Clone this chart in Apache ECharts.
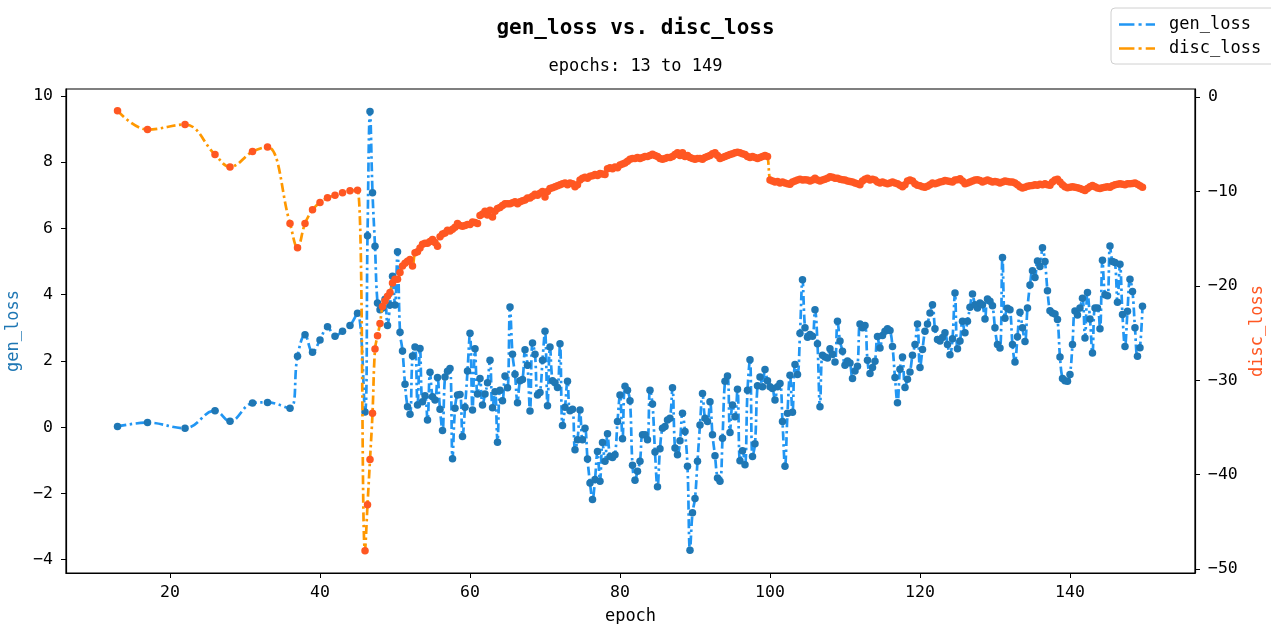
<!DOCTYPE html>
<html>
<head>
<meta charset="utf-8">
<script src="https://cdn.jsdelivr.net/npm/echarts@6/dist/echarts.min.js"></script>
<style>
  html, body { margin: 0; padding: 0; background: #ffffff; }
  #chart { width: 1271px; height: 624px; }
</style>
</head>
<body>
<div id="chart"></div>
<script>
// Sparse validation epochs logged before the dense phase
const earlyEpochs = [13, 17, 22, 26, 28, 31, 33, 36, 37, 38, 39, 40, 41, 42, 43, 44, 45];
const genEarly = [0.02, 0.14, -0.03, 0.50, 0.18, 0.73, 0.75, 0.57, 2.14, 2.79, 2.26, 2.63, 3.03, 2.75, 2.90, 3.07, 3.44];
const discEarly = [-1.45, -3.45, -2.92, -6.1, -7.4, -5.78, -5.29, -13.4, -15.96, -13.4, -11.95, -11.17, -10.68, -10.4, -10.15, -9.94, -9.87];

// From epoch 46 on, losses are logged three times per epoch
const denseStartEpoch = 46;
const pointsPerEpoch = 3;

const genDense = [
  0.46, 5.78, 9.53, 7.08, 5.46, 3.75, 3.55, 3.6, 3.86, 3.07, 3.69, 4.56,
  3.69, 5.3, 2.87, 2.3, 1.3, 0.62, 0.39, 2.15, 2.42, 0.67, 2.38, 0.77,
  0.95, 0.22, 1.66, 0.92, 0.82, 1.5, 0.54, -0.1, 1.52, 1.69, 1.77, -0.95,
  0.57, 0.97, 0.99, -0.28, 0.6, 1.7, 2.84, 0.52, 2.37, 1.0, 1.47, 0.67,
  1.0, 1.34, 2.02, 0.59, 1.07, -0.45, 1.12, 0.8, 1.55, 1.19, 3.63, 2.2,
  1.6, 0.74, 1.4, 1.44, 2.34, 1.87, 0.49, 2.54, 2.2, 0.97, 1.05, 2.02,
  2.9, 0.65, 2.42, 1.4, 1.34, 1.2, 2.52, 0.05, 0.6, 1.39, 0.5, 0.54,
  -0.68, -0.38, 0.52, -0.38, -0.03, -0.96, -1.68, -2.18, -1.58, -0.73, -1.63, -0.46,
  -1.03, -0.2, -0.88, -0.91, -0.83, 0.17, 0.97, -0.35, 1.24, 1.12, 0.8, -1.15,
  -1.6, -1.33, -1.03, -0.23, -0.23, -0.38, 1.12, 0.7, -0.75, -1.8, -0.65, -0.03,
  0.02, 0.22, 0.27, 1.19, -0.63, -0.83, -0.41, 0.42, -0.13, -1.18, -3.71, -2.58,
  -2.15, -1.03, 0.07, 1.02, 0.27, 0.17, 0.77, -0.23, -0.86, -1.53, -1.63, -0.33,
  1.39, 1.55, -0.16, 0.67, 0.32, 1.15, -1.01, -0.71, -1.13, 1.12, 2.04, -0.88,
  -0.5, 1.25, 1.52, 1.22, 1.74, 1.4, 1.22, 1.17, 0.82, 1.22, 1.32, 0.17,
  -1.18, 0.42, 1.57, 0.45, 1.89, 1.59, 2.84, 4.45, 3.0, 2.72, 2.8, 2.75,
  3.55, 2.52, 0.62, 2.17, 2.12, 2.09, 2.37, 2.2, 1.97, 3.2, 2.6, 2.29,
  1.87, 2.0, 1.94, 1.47, 1.7, 1.84, 3.12, 3.0, 3.07, 2.02, 1.62, 1.8,
  1.99, 2.74, 2.39, 2.77, 2.9, 2.97, 2.92, 2.44, 1.5, 0.74, 1.75, 2.12,
  1.2, 1.45, 1.67, 2.17, 2.5, 3.12, 1.8, 2.35, 2.9, 3.12, 3.45, 3.7,
  2.97, 2.65, 2.6, 2.71, 2.85, 2.5, 2.19, 2.67, 4.05, 2.37, 2.6, 3.2,
  2.85, 3.2, 3.62, 4.02, 3.7, 3.6, 3.75, 3.7, 3.27, 3.87, 3.8, 3.67,
  3.0, 2.5, 2.39, 5.12, 3.29, 3.59, 3.55, 2.5, 1.97, 2.73, 3.47, 3.0,
  2.59, 3.6, 4.29, 4.72, 4.52, 5.02, 4.85, 5.42, 5.0, 4.12, 3.52, 3.45,
  3.42, 3.25, 2.12, 1.47, 1.4, 1.39, 1.59, 2.5, 3.51, 3.39, 3.6, 3.89,
  2.69, 4.07, 3.27, 2.24, 3.6, 3.6, 2.97, 5.04, 4.0, 3.97, 5.47, 5.0,
  4.97, 3.77, 4.92, 3.4, 2.44, 3.5, 4.47, 4.1, 3.0, 2.14, 2.4, 3.65
];

const discDense = [
  -48.06, -43.2, -38.4, -33.5, -26.7, -25.3, -24.0, -22.2, -21.6, -21.1, -20.7, -19.7,
  -19.3, -19.3, -18.6, -17.9, -17.6, -17.4, -17.2, -17.9, -16.5, -16.4, -16.0, -15.6,
  -15.5, -15.5, -15.3, -15.1, -15.4, -15.8, -14.8, -14.5, -14.4, -14.1, -14.2, -14.0,
  -13.8, -13.4, -13.6, -13.7, -13.6, -13.5, -13.5, -13.25, -13.3, -13.4, -12.54, -12.4,
  -12.1, -12.5, -12.0, -12.7, -12.1, -11.8, -11.7, -11.5, -11.3, -11.3, -11.3, -11.2,
  -11.1, -11.3, -11.1, -11.0, -10.9, -10.7, -10.7, -10.5, -10.3, -10.4, -10.2, -10.0,
  -10.6, -10.0, -9.7, -9.6, -9.5, -9.4, -9.3, -9.2, -9.1, -9.3, -9.1, -9.2,
  -9.5, -9.3, -8.8, -8.6, -8.5, -8.6, -8.4, -8.35, -8.2, -8.3, -8.1, -8.15,
  -8.2, -7.6, -7.5, -7.6, -7.4, -7.5, -7.2, -7.1, -7.0, -6.8, -6.6, -6.5,
  -6.5, -6.4, -6.5, -6.4, -6.3, -6.3, -6.2, -6.05, -6.2, -6.3, -6.5, -6.6,
  -6.5, -6.4, -6.4, -6.3, -6.1, -5.9, -6.2, -5.9, -6.3, -6.2, -6.4, -6.5,
  -6.6, -6.5, -6.5, -6.6, -6.4, -6.3, -6.2, -6.0, -5.9, -6.2, -6.5, -6.4,
  -6.3, -6.2, -6.1, -6.0, -5.9, -5.85, -5.9, -6.0, -6.1, -6.3, -6.4, -6.3,
  -6.4, -6.5, -6.4, -6.3, -6.2, -6.3, -8.8, -8.9, -9.0, -8.95, -9.1, -9.0,
  -9.1, -9.2, -9.25, -9.0, -8.9, -8.8, -8.7, -8.8, -8.75, -8.8, -8.9, -8.8,
  -8.6, -8.8, -8.9, -8.8, -8.7, -8.6, -8.45, -8.5, -8.6, -8.6, -8.7, -8.75,
  -8.8, -8.9, -8.95, -9.0, -9.1, -9.2, -9.3, -8.9, -8.7, -8.6, -8.8, -8.7,
  -8.8, -9.0, -9.1, -9.0, -9.1, -9.2, -9.1, -9.0, -9.1, -9.2, -9.35, -9.5,
  -9.3, -8.9, -8.8, -8.9, -9.2, -9.35, -9.4, -9.5, -9.55, -9.45, -9.3, -9.1,
  -9.2, -9.1, -9.0, -8.95, -8.85, -8.9, -8.95, -9.0, -8.8, -8.75, -8.67, -8.9,
  -9.2, -9.1, -9.0, -8.9, -8.8, -8.75, -8.85, -9.0, -8.9, -8.8, -8.9, -9.0,
  -8.95, -9.0, -9.1, -9.0, -8.9, -8.95, -9.0, -9.0, -9.1, -9.3, -9.5, -9.65,
  -9.55, -9.45, -9.4, -9.37, -9.3, -9.35, -9.25, -9.3, -9.2, -9.3, -9.35, -9.0,
  -8.8, -8.7, -9.0, -9.3, -9.5, -9.6, -9.55, -9.5, -9.55, -9.6, -9.7, -9.8,
  -9.9, -9.7, -9.5, -9.37, -9.5, -9.65, -9.7, -9.6, -9.55, -9.5, -9.55, -9.4,
  -9.3, -9.25, -9.2, -9.25, -9.3, -9.2, -9.2, -9.15, -9.1, -9.25, -9.4, -9.55
];

const xTicks = [20, 40, 60, 80, 100, 120, 140];
const genTicks = [-4, -2, 0, 2, 4, 6, 8, 10];
const discTicks = [-50, -40, -30, -20, -10, 0];

// Assemble [epoch, value] pairs
const denseEpochs = genDense.map((_, i) => denseStartEpoch + i / pointsPerEpoch);
const epochs = earlyEpochs.concat(denseEpochs);
const genLoss = genEarly.concat(genDense);
const discLoss = discEarly.concat(discDense);
const genPoints = epochs.map((e, i) => [e, genLoss[i]]);
const discPoints = epochs.map((e, i) => [e, discLoss[i]]);

const FONT = 'DejaVu Sans Mono';
const GEN_LINE = '#2196f3', GEN_DOT = '#1f77b4';
const DISC_LINE = '#ff9800', DISC_DOT = '#ff5722';
const DASH_DOT = [9, 3.5, 2.5, 3.5];
// Legend swatch: dash, dot, dash
const DASH_DOT_ICON = 'path://M0,0h15v2.6h-15z M19,0h3v2.6h-3z M26,0h9v2.6h-9z';

const fmt = v => (v < 0 ? '\u2212' + Math.abs(v) : String(v));

const tickStyle = { show: true, inside: false, length: 5, lineStyle: { color: '#000', width: 1 } };
const labelBase = { fontFamily: FONT, fontSize: 16.5, color: '#000', formatter: fmt };

const chart = echarts.init(document.getElementById('chart'), null, { renderer: 'canvas' });

chart.setOption({
  animation: false,
  backgroundColor: '#ffffff',
  title: [
    {
      text: 'gen_loss vs. disc_loss',
      left: 'center', top: 13,
      textStyle: { fontFamily: FONT, fontSize: 21, fontWeight: 'bold', color: '#000' }
    },
    {
      text: 'epochs: 13 to 149',
      left: 'center', top: 53,
      textStyle: { fontFamily: FONT, fontSize: 17, fontWeight: 'normal', color: '#000' }
    }
  ],
  legend: {
    data: [
      { name: 'gen_loss', icon: DASH_DOT_ICON },
      { name: 'disc_loss', icon: DASH_DOT_ICON }
    ],
    orient: 'vertical',
    left: 1111, top: 8,
    padding: [8, 14, 7, 8],
    itemWidth: 36, itemHeight: 14, itemGap: 7,
    borderColor: '#d0d0d0', borderWidth: 1, borderRadius: 4,
    backgroundColor: 'rgba(255,255,255,0.8)',
    textStyle: { fontFamily: FONT, fontSize: 17, color: '#000', padding: [0, 0, 0, 9] }
  },
  grid: {
    left: 66, right: 76, top: 89, bottom: 51,
    outerBoundsMode: 'none', containLabel: false,
    show: true, borderColor: '#000', borderWidth: 1.2, backgroundColor: '#fff'
  },
  xAxis: {
    type: 'value',
    min: 6.13, max: 156.67,
    name: 'epoch', nameLocation: 'middle', nameGap: 35,
    nameTextStyle: { fontFamily: FONT, fontSize: 17, color: '#000' },
    axisLine: { show: true, onZero: false, lineStyle: { color: '#000', width: 1.2 } },
    axisTick: Object.assign({ customValues: xTicks }, tickStyle),
    axisLabel: Object.assign({ customValues: xTicks, margin: 11 }, labelBase),
    splitLine: { show: false }
  },
  yAxis: [
    {
      type: 'value', position: 'left',
      min: -4.40, max: 10.21,
      name: 'gen_loss', nameLocation: 'middle', nameGap: 40, nameRotate: 90,
      nameTextStyle: { fontFamily: FONT, fontSize: 17, color: '#1f77b4' },
      axisLine: { show: true, onZero: false, lineStyle: { color: '#000', width: 1.2 } },
      axisTick: Object.assign({ customValues: genTicks }, tickStyle),
      axisLabel: Object.assign({ customValues: genTicks, margin: 13 }, labelBase),
      splitLine: { show: false }
    },
    {
      type: 'value', position: 'right',
      min: -50.42, max: 0.85,
      name: 'disc_loss', nameLocation: 'middle', nameGap: 52, nameRotate: 90,
      nameTextStyle: { fontFamily: FONT, fontSize: 17, color: DISC_DOT },
      axisLine: { show: true, onZero: false, lineStyle: { color: '#000', width: 1.2 } },
      axisTick: Object.assign({ customValues: discTicks }, tickStyle),
      axisLabel: Object.assign({ customValues: discTicks, margin: 13 }, labelBase),
      splitLine: { show: false }
    }
  ],
  series: [
    {
      name: 'gen_loss', type: 'line', yAxisIndex: 0,
      data: genPoints, smooth: 0.4, symbol: 'none', clip: true, z: 2,
      lineStyle: { color: GEN_LINE, width: 2.7, type: DASH_DOT },
      itemStyle: { color: GEN_LINE }
    },
    {
      name: 'gen_points', type: 'scatter', yAxisIndex: 0,
      data: genPoints, symbolSize: 7.5, z: 3,
      itemStyle: { color: GEN_DOT, opacity: 1 }
    },
    {
      name: 'disc_loss', type: 'line', yAxisIndex: 1,
      data: discPoints, smooth: 0.4, symbol: 'none', clip: true, z: 4,
      lineStyle: { color: DISC_LINE, width: 2.7, type: DASH_DOT },
      itemStyle: { color: DISC_LINE }
    },
    {
      name: 'disc_points', type: 'scatter', yAxisIndex: 1,
      data: discPoints, symbolSize: 7.5, z: 5,
      itemStyle: { color: DISC_DOT, opacity: 1 }
    }
  ]
});
</script>
</body>
</html>
